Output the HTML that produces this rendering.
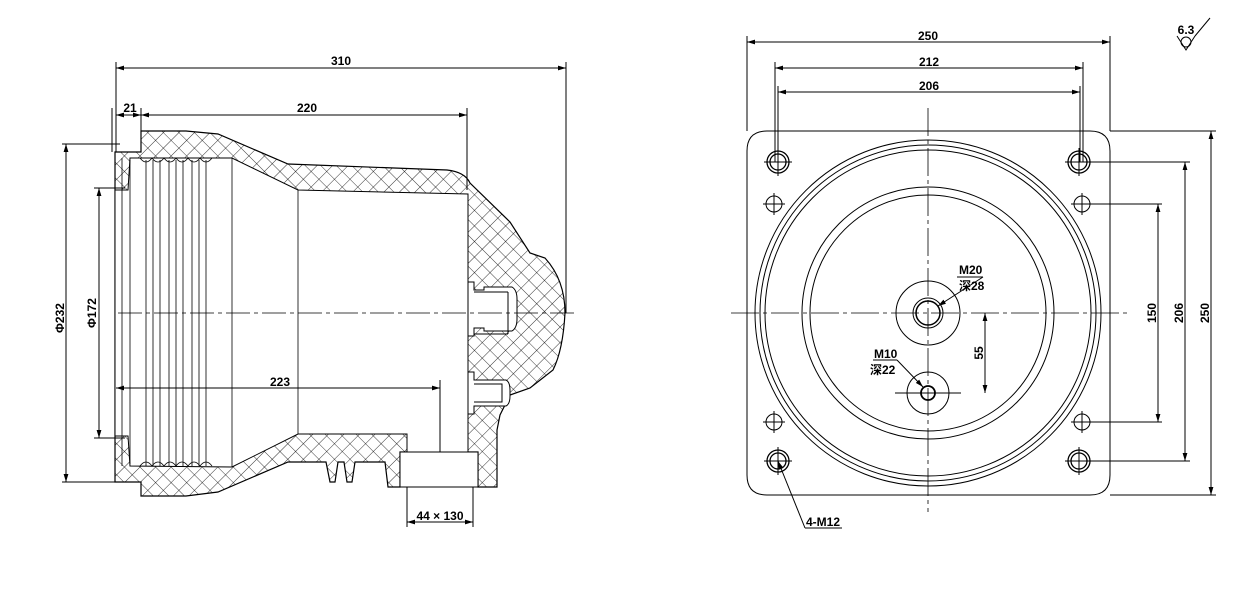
<!DOCTYPE html>
<html><head><meta charset="utf-8"><style>
html,body{margin:0;padding:0;background:#fff}
svg{display:block}
text{font-family:"Liberation Sans","Noto Sans CJK SC",sans-serif;font-weight:bold;font-size:12px;fill:#000}
</style></head><body>
<svg width="1235" height="614" viewBox="0 0 1235 614" xmlns="http://www.w3.org/2000/svg">
<defs>
<pattern id="h" width="11" height="11" patternUnits="userSpaceOnUse" patternTransform="rotate(45)">
<path d="M0 0H11M0 0V11" stroke="#000" stroke-width="0.8"/>
</pattern>
<marker id="a" viewBox="0 0 10 6" refX="10" refY="3" markerWidth="8" markerHeight="5" orient="auto-start-reverse"><path d="M0 0L10 3L0 6Z" fill="#000"/></marker>
</defs>
<g stroke="#000" fill="none" stroke-width="1">
<path d="M115,152 L141,152 L141,131 L186,131 L218,134 L288,164 L447,170 Q465,172 470,183 L510,222 L530,253 L545,258 Q565,280 565,313 Q563,350 553,370 L530,388 L510,395 L500,415 L497,430 L497,487 L478,487 L478,452 L400,452 L400,487 L388,487 L385,462 L355,462 L352,482 L347,482 L344,462 L338,462 L335,482 L330,482 L326,462 L318,462 L288,462 L218,492 L186,496 L141,496 L141,482 L115,482 Z" fill="url(#h)" stroke-width="1.2"/>
<path d="M115,190 L128,190 L130,158 L232,158 L298,190 L468,194 L468,452 L407,452 L407,434 L298,434 L232,467 L130,466 L128,436 L115,436 Z" fill="#fff"/>
<rect x="400" y="452" width="78" height="35" fill="#fff"/>
<g stroke-width="0.8">
<path d="M122,158V466M130,160V464M146,160V466M153,160V466M160,160V466M169,160V466M176,160V466M183,160V466M192,160V466M199,160V466M206,160V466M232,158V467M298,190V434"/>
<path d="M140,158 q6,8 12,0 q6,8 12,0 q6,8 12,0 q6,8 12,0 q6,8 12,0 q6,8 12,0 M140,466 q6,-8 12,0 q6,-8 12,0 q6,-8 12,0 q6,-8 12,0 q6,-8 12,0 q6,-8 12,0"/>
</g>
<path d="M468,282 h6 v8 h10 v-3 h28 q5,3 5,12 v20 q0,9 -5,12 h-28 v-3 h-10 v8 h-6 Z" fill="#fff"/>
<path d="M474,292 h34 M474,334 h34 M508,292 v42"/>
<path d="M468,372 h6 v8 h32 q4,2 4,10 v6 q0,8 -4,10 h-32 v8 h-6 Z" fill="#fff"/>
<path d="M474,384 h28 v18 h-28"/>
<path d="M118,313 H575" stroke-dasharray="24,4,4,4" stroke-width="0.8"/>
<path d="M116,62V152M566,62V313"/><path d="M116,68H566" marker-start="url(#a)" marker-end="url(#a)"/>
<path d="M141,108V131M467,108V190M112,108V152"/>
<path d="M116,115H141" marker-start="url(#a)" marker-end="url(#a)"/>
<path d="M141,115H467" marker-start="url(#a)" marker-end="url(#a)"/>
<path d="M62,144H120M62,482H120"/><path d="M66,144V482" marker-start="url(#a)" marker-end="url(#a)"/>
<path d="M94,188H125M94,438H125"/><path d="M99,188V438" marker-start="url(#a)" marker-end="url(#a)"/>
<path d="M116,388H440" marker-start="url(#a)" marker-end="url(#a)"/><path d="M440,380V452"/>
<path d="M407,487V527M473,487V527"/><path d="M407,522H473" marker-start="url(#a)" marker-end="url(#a)"/>
<path d="M767,131 H1090 Q1110,131 1110,151 V475 Q1110,495 1090,495 H767 Q747,495 747,475 V151 Q747,131 767,131Z"/>
<circle cx="928" cy="313" r="173"/><circle cx="928" cy="313" r="168"/><circle cx="928" cy="313" r="163"/>
<circle cx="928" cy="313" r="126"/><circle cx="928" cy="313" r="118"/>
<circle cx="928" cy="313" r="32"/><circle cx="928" cy="313" r="15"/><circle cx="928" cy="313" r="12" stroke-width="1.5"/>
<circle cx="928" cy="393" r="21"/><circle cx="928" cy="393" r="7" stroke-width="1.8"/>
<g stroke-width="1.3">
<circle cx="778" cy="162" r="11"/><circle cx="778" cy="162" r="8"/>
<circle cx="1079" cy="162" r="11"/><circle cx="1079" cy="162" r="8"/>
<circle cx="778" cy="461" r="11"/><circle cx="778" cy="461" r="8"/>
<circle cx="1079" cy="461" r="11"/><circle cx="1079" cy="461" r="8"/>
</g>
<circle cx="774" cy="204" r="8"/><circle cx="1082" cy="204" r="8"/><circle cx="774" cy="422" r="8"/><circle cx="1082" cy="422" r="8"/>
<path d="M763,204h22M774,193v22M1071,204h22M1082,193v22M763,422h22M774,411v22M1071,422h22M1082,411v22M778,148v28M764,162h28M1079,148v28M1065,162h28M778,447v28M764,461h28M1079,447v28M1065,461h28M895,393h66"/>
<path d="M731,313H1130M928,108V512" stroke-dasharray="28,4,4,4" stroke-width="0.8"/>
<path d="M747,36V131M1110,36V131M775,62V162M1083,62V162M778,86V162M1080,86V162"/>
<path d="M747,42H1110" marker-start="url(#a)" marker-end="url(#a)"/>
<path d="M775,68H1083" marker-start="url(#a)" marker-end="url(#a)"/>
<path d="M778,92H1080" marker-start="url(#a)" marker-end="url(#a)"/>
<path d="M1090,204H1162M1090,422H1162M1090,162H1190M1090,461H1190M1110,131H1216M1110,495H1216"/>
<path d="M1158,204V422" marker-start="url(#a)" marker-end="url(#a)"/>
<path d="M1185,162V461" marker-start="url(#a)" marker-end="url(#a)"/>
<path d="M1211,131V495" marker-start="url(#a)" marker-end="url(#a)"/>
<path d="M985,313V393" marker-start="url(#a)" marker-end="url(#a)"/>
<path d="M983,277L938,306" marker-end="url(#a)"/><path d="M957,277H983"/>
<path d="M897,360L923,387" marker-end="url(#a)"/><path d="M873,360H897"/>
<path d="M805,528H842"/><path d="M805,528L778,461" marker-end="url(#a)"/>
<path d="M1177,36L1186,50L1195,36M1195,36L1210,18"/><circle cx="1186" cy="42" r="5"/>
</g>
<text x="341" y="65" text-anchor="middle">310</text>
<text x="130" y="112" text-anchor="middle">21</text>
<text x="307" y="112" text-anchor="middle">220</text>
<text x="280" y="386" text-anchor="middle">223</text>
<text x="440" y="520" text-anchor="middle" font-size="11">44 × 130</text>
<text transform="translate(64,318) rotate(-90)" text-anchor="middle">Φ232</text>
<text transform="translate(96,313) rotate(-90)" text-anchor="middle">Φ172</text>
<text x="928" y="40" text-anchor="middle">250</text>
<text x="929" y="66" text-anchor="middle">212</text>
<text x="929" y="90" text-anchor="middle">206</text>
<text transform="translate(1156,313) rotate(-90)" text-anchor="middle">150</text>
<text transform="translate(1183,313) rotate(-90)" text-anchor="middle">206</text>
<text transform="translate(1209,313) rotate(-90)" text-anchor="middle">250</text>
<text transform="translate(983,353) rotate(-90)" text-anchor="middle">55</text>
<text x="959" y="274">M20</text>
<text x="959" y="290">深28</text>
<text x="874" y="358">M10</text>
<text x="870" y="374">深22</text>
<text x="806" y="526">4-M12</text>
<text x="1186" y="34" text-anchor="middle" font-size="9">6.3</text>
</svg>
</body></html>
